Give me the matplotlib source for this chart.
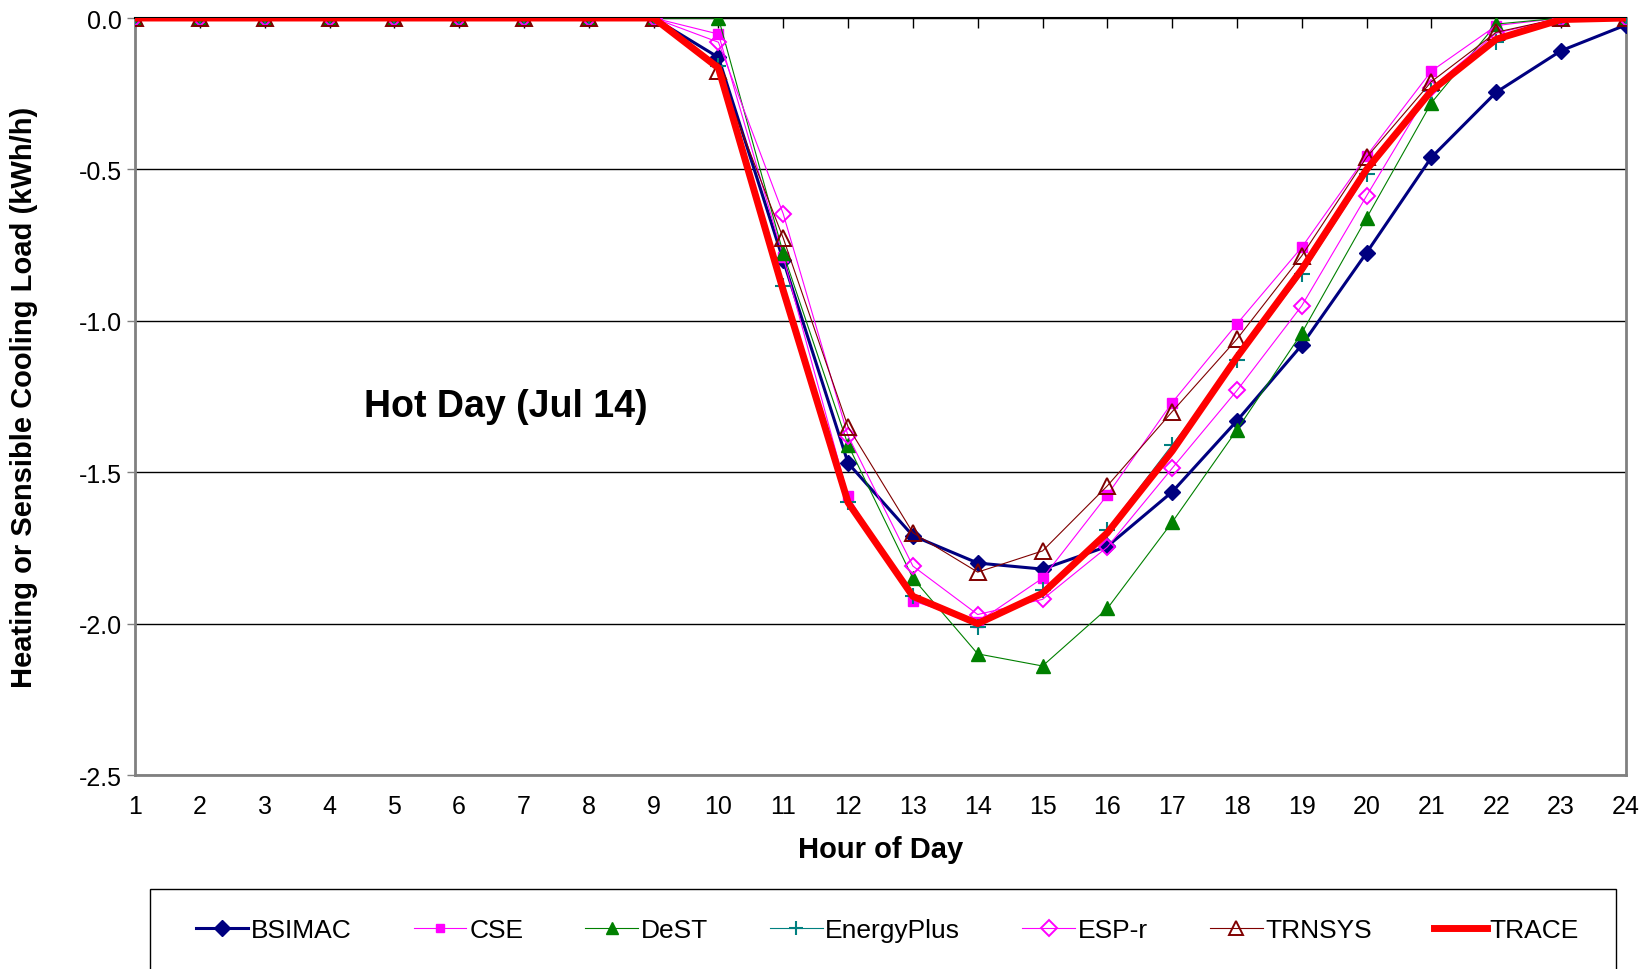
import matplotlib
matplotlib.use('Agg')
import matplotlib.pyplot as plt
from matplotlib.patches import Rectangle

plt.rcParams['font.family'] = ['Liberation Sans', 'DejaVu Sans']
plt.rcParams['axes.unicode_minus'] = False

hours = list(range(1, 25))
zeros = [0.0] * 9

bsimac = zeros + [-0.13, -0.80, -1.47, -1.71, -1.80, -1.82, -1.745, -1.565, -1.33, -1.08, -0.775, -0.46, -0.245, -0.108, -0.023]
cse = zeros + [-0.053, -0.79, -1.58, -1.925, -1.995, -1.85, -1.575, -1.27, -1.01, -0.757, -0.455, -0.175, -0.025, 0.0, 0.0]
dest = zeros + [0.0, -0.777, -1.41, -1.85, -2.10, -2.14, -1.95, -1.665, -1.36, -1.04, -0.66, -0.28, -0.02, 0.0, 0.0]
energyplus = zeros + [-0.16, -0.885, -1.60, -1.91, -2.01, -1.89, -1.69, -1.41, -1.13, -0.845, -0.515, -0.24, -0.08, 0.0, 0.0]
espr = zeros + [-0.08, -0.647, -1.38, -1.81, -1.97, -1.92, -1.747, -1.487, -1.23, -0.95, -0.587, -0.23, -0.05, 0.0, 0.0]
trnsys = zeros + [-0.175, -0.727, -1.35, -1.70, -1.83, -1.76, -1.545, -1.30, -1.06, -0.785, -0.46, -0.21, -0.047, 0.0, 0.0]
trace = zeros + [-0.165, -0.90, -1.60, -1.91, -2.00, -1.90, -1.70, -1.43, -1.12, -0.83, -0.50, -0.24, -0.07, -0.005, 0.0]

yticks = [0.0, -0.5, -1.0, -1.5, -2.0, -2.5]

fig = plt.figure(figsize=(16.49, 9.70), dpi=100)
ax = fig.add_axes([0.0819, 0.2, 0.9041, 0.7804])

ax.plot(hours, bsimac, color='#000080', lw=2.2, marker='D', ms=8.5, label='BSIMAC', zorder=3)
ax.plot(hours, cse, color='#FF00FF', lw=0.8, marker='s', ms=6.5, label='CSE', zorder=3)
ax.plot(hours, dest, color='#008000', lw=0.8, marker='^', ms=10, label='DeST', zorder=3)
ax.plot(hours, energyplus, color='#008080', lw=0.8, marker='+', ms=11, mew=1.5, label='EnergyPlus', zorder=3)
ax.plot(hours, espr, color='#FF00FF', lw=0.8, marker='D', ms=8.5, mfc='none', mew=1.4, label='ESP-r', zorder=3)
ax.plot(hours, trnsys, color='#800000', lw=0.8, marker='^', ms=11, mfc='none', mew=1.4, label='TRNSYS', zorder=3)
ax.plot(hours, trace, color='#FF0000', lw=5, label='TRACE', zorder=4)

ax.set_xlim(1, 24)
ax.set_ylim(-2.5, 0)
ax.set_xticks(hours)
ax.set_yticks(yticks)
ax.set_yticklabels(['%.1f' % v for v in yticks])
ax.tick_params(axis='x', top=True, bottom=False, direction='in', length=7, width=1,
               labelsize=18, pad=14, labelbottom=True, labeltop=False)
ax.tick_params(axis='y', direction='out', length=6, width=1, labelsize=18, color='#808080')

ax.grid(axis='y', color='black', lw=1)
ax.set_axisbelow(True)
for s in ['left', 'right', 'bottom']:
    ax.spines[s].set_color('#808080')
    ax.spines[s].set_linewidth(2)
ax.spines['top'].set_color('black')
ax.spines['top'].set_linewidth(1.5)

ax.set_xlabel('Hour of Day', fontsize=21, fontweight='bold', labelpad=12)
ax.set_ylabel('Heating or Sensible Cooling Load (kWh/h)', fontsize=21, fontweight='bold')
ax.yaxis.set_label_coords(-0.065, 0.5)

ax.text(6.72, -1.28, 'Hot Day (Jul 14)', fontsize=27, fontweight='bold', ha='center', va='center')

fig.patches.append(Rectangle((150 / 1649, -0.05), 1466 / 1649, 1.05 - 890 / 970,
                             transform=fig.transFigure, fill=False, edgecolor='black', lw=1))

fig.legend(loc='center', bbox_to_anchor=(0.538, 1 - 931 / 970), ncol=7, frameon=False,
           fontsize=19, handlelength=2.0, handletextpad=0.1, columnspacing=2.35, markerscale=0.9)

fig.savefig('out.png', dpi=100)
